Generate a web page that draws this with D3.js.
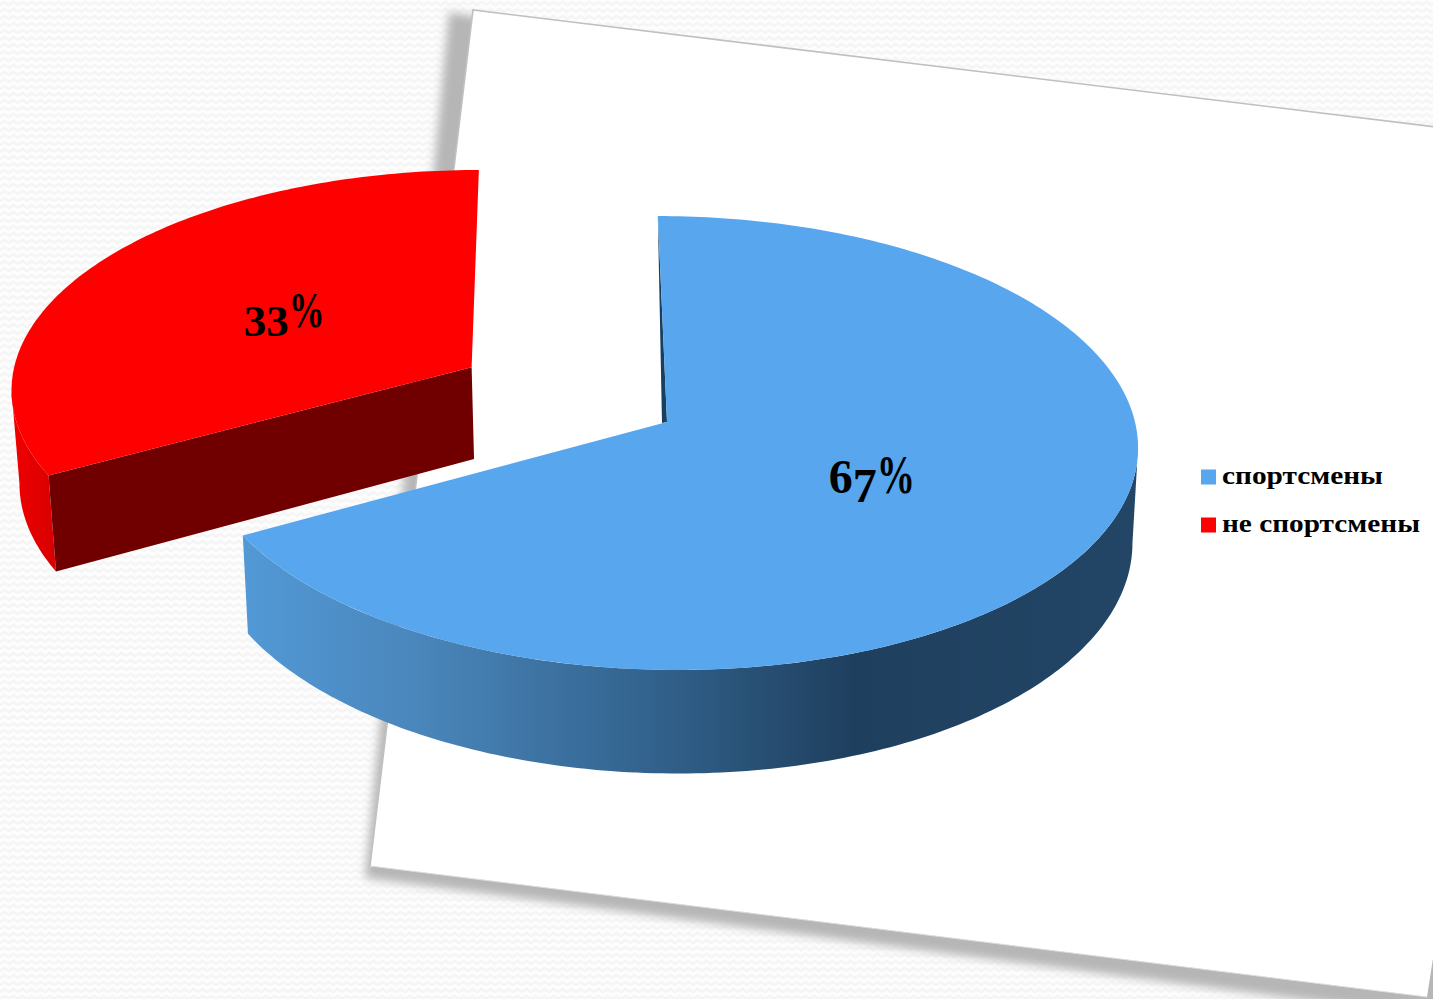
<!DOCTYPE html>
<html lang="ru">
<head>
<meta charset="utf-8">
<script src="https://cdn.jsdelivr.net/npm/d3@7/dist/d3.min.js"></script>
<style>
  html, body { margin: 0; padding: 0; background: #fcfcfc; overflow: hidden; }
  svg { display: block; }
  text { font-family: "Liberation Serif", serif; font-weight: bold; fill: #000; }
</style>
</head>
<body>
<svg id="chart" width="1433" height="999"></svg>
<script>
// Chart data
const categories = ["спортсмены", "не спортсмены"];
const values = [67, 33];
const explode = [0, 0.49];
const labelRadius = [0.49, 0.492];
const labelSize = [48, 45];
const legendWidths = [161, 198];
const topColors = ["#57a6ee", "#ff0000"];
const cutColors = ["#173f60", "#700000"];

const W = 1433, H = 999;
const svg = d3.select("#chart");
const defs = svg.append("defs");

// Faint woven paper texture behind the sheet
const weave = defs.append("pattern").attr("id", "weave")
  .attr("width", 18).attr("height", 14).attr("patternUnits", "userSpaceOnUse");
weave.append("rect").attr("width", 18).attr("height", 14).attr("fill", "#fdfdfd");
weave.append("path").attr("d", "M0 5 L4.5 2 L9 5 L13.5 2 L18 5 M0 12 L4.5 9 L9 12 L13.5 9 L18 12")
  .attr("fill", "none").attr("stroke", "#f5f5f5").attr("stroke-width", 2.4);
defs.append("filter").attr("id", "soft").attr("x", "-10%").attr("y", "-10%")
  .attr("width", "120%").attr("height", "120%")
  .append("feGaussianBlur").attr("stdDeviation", 5);

// Side wall shading of the large slice
const sideStops = [[247, "#5299d6"], [420, "#4a86bb"], [640, "#33648f"], [850, "#1f3f5e"], [1130, "#234666"]];
const sideX = d3.scaleLinear().domain([247, 1130]).range([0, 1]);
const sideGrad = defs.append("linearGradient").attr("id", "blueSide")
  .attr("x1", 0).attr("x2", 1).attr("y1", 0).attr("y2", 0);
sideStops.forEach(([x, c]) => sideGrad.append("stop").attr("offset", sideX(x)).attr("stop-color", c));
const redGrad = defs.append("linearGradient").attr("id", "redSide").attr("x1", 0).attr("x2", 1).attr("y1", 0).attr("y2", 0);
redGrad.append("stop").attr("offset", 0).attr("stop-color", "#f00000");
redGrad.append("stop").attr("offset", 1).attr("stop-color", "#d80000");

// Backdrop and tilted sheet
svg.append("rect").attr("width", W).attr("height", H).attr("fill", "url(#weave)");
const line = d3.line();
const shadowCorners = [[449, 12], [365, 878], [1429, 1016], [1460, 990], [1500, 200]];
const sheetCorners = [[473, 10], [370, 866], [1427, 997], [1560, 142]];
svg.append("path").attr("d", line(shadowCorners) + "Z").attr("fill", "#b6b6b6").attr("filter", "url(#soft)");
svg.append("path").attr("d", line(sheetCorners) + "Z").attr("fill", "#ffffff");
svg.append("path").attr("d", line([sheetCorners[3], sheetCorners[0], sheetCorners[1]]))
  .attr("fill", "none").attr("stroke", "#c0c0c0").attr("stroke-width", 1.6);
svg.append("path").attr("d", line([sheetCorners[1], sheetCorners[2]]))
  .attr("fill", "none").attr("stroke", "#dcdcdc").attr("stroke-width", 1);

// Perspective view of the pie plane: u runs right, v runs away from the viewer
const persp = 0.0925, depth = 94, shrink = 0.988, vanishX = 672;
const xUnit = d3.scaleLinear().domain([0, 1]).range([667, 1135]);
const yUnit = d3.scaleLinear().domain([0, 1]).range([422, 197]);
const lean = -10;
function project(u, v, low) {
  const w = 1 + persp * v;
  let X = xUnit(u / w) + lean * v / w;
  let Y = yUnit(v / w);
  if (low) {
    X = vanishX + (X - vanishX) * shrink;
    Y += depth / w;
  }
  return [X, Y];
}

const pie = d3.pie().sort(null).startAngle(0).endAngle(2 * Math.PI);
const arcs = pie(values);

function offsetOf(i) {
  const mid = (arcs[i].startAngle + arcs[i].endAngle) / 2;
  return [explode[i] * Math.sin(mid), explode[i] * Math.cos(mid)];
}
function rimPoint(i, a, low) {
  const [ou, ov] = offsetOf(i);
  return project(ou + Math.sin(a), ov + Math.cos(a), low);
}
function rim(i, a0, a1, low) {
  const steps = Math.max(2, Math.round(Math.abs(a1 - a0) * 60));
  return d3.range(steps + 1).map(k => rimPoint(i, a0 + (a1 - a0) * k / steps, low));
}
function apex(i, low) {
  const [ou, ov] = offsetOf(i);
  return project(ou, ov, low);
}
// Angle at which a slice's rim reaches its outermost screen position
function silhouetteAngle(i, sign) {
  const a = arcs[i];
  const samples = d3.range(a.startAngle, a.endAngle, 0.005);
  return samples[d3.greatestIndex(samples, s => sign * rimPoint(i, s)[0])];
}

const blue = 0, red = 1;

// Detached slice: outer wall, cut face, top
const redA = arcs[red];
const redEdge = silhouetteAngle(red, -1);
svg.append("path")
  .attr("d", line(rim(red, redA.startAngle, redEdge).concat(rim(red, redEdge, redA.startAngle, true))) + "Z")
  .attr("fill", "url(#redSide)");
svg.append("path")
  .attr("d", line([apex(red), rimPoint(red, redA.startAngle),
                   rimPoint(red, redA.startAngle, true), apex(red, true)]) + "Z")
  .attr("fill", cutColors[red]);
svg.append("path")
  .attr("d", line([apex(red), ...rim(red, redA.startAngle, redA.endAngle)]) + "Z")
  .attr("fill", topColors[red]);

// Large slice: outer wall, thin visible cut face, top
const blueA = arcs[blue];
const blueEdge = silhouetteAngle(blue, 1);
svg.append("path")
  .attr("d", line(rim(blue, blueEdge, blueA.endAngle).concat(rim(blue, blueA.endAngle, blueEdge, true))) + "Z")
  .attr("fill", "url(#blueSide)");
const peak = apex(blue);
svg.append("path")
  .attr("d", line([rimPoint(blue, 0), peak, [peak[0] - 5, peak[1] + 1]]) + "Z")
  .attr("fill", cutColors[blue]);
svg.append("path")
  .attr("d", line([peak, ...rim(blue, blueA.startAngle, blueA.endAngle)]) + "Z")
  .attr("fill", topColors[blue]);

// Percentage labels: old-style figures sit at different heights, with a tall condensed sign
const dropping = new Set(["3", "4", "5", "7", "9"]);
function pctLabel(i) {
  const size = labelSize[i];
  const mid = (arcs[i].startAngle + arcs[i].endAngle) / 2;
  const [ou, ov] = offsetOf(i);
  const r = labelRadius[i];
  const p = project(ou + r * Math.sin(mid), ov + r * Math.cos(mid));
  const digits = String(values[i]).split("");
  const signWidth = size * 0.79, digitWidth = size * 0.5;
  const total = digits.length * digitWidth + signWidth;
  const g = svg.append("g").attr("transform", `translate(${p[0] - total / 2},${p[1]})`);
  const t = g.append("text").attr("font-size", size);
  digits.forEach((d, k) => {
    t.append("tspan").attr("x", k * digitWidth)
      .attr("y", size * (dropping.has(d) ? 0.47 : 0.28)).text(d);
  });
  g.append("text").attr("font-size", size * 1.14)
    .attr("transform", `translate(${digits.length * digitWidth},${size * 0.28}) scale(0.7,1)`)
    .text("%");
}
pctLabel(blue);
pctLabel(red);

// Legend
const legendY = d3.scalePoint().domain(categories).range([477, 525]);
const legend = svg.append("g").selectAll("g").data(categories).join("g")
  .attr("transform", d => `translate(1201,${legendY(d)})`);
legend.append("rect").attr("y", -7.5).attr("width", 15).attr("height", 15)
  .attr("fill", (d, i) => topColors[i]);
legend.append("text").attr("x", 21).attr("y", 7).attr("font-size", 26)
  .attr("textLength", (d, i) => legendWidths[i]).attr("lengthAdjust", "spacingAndGlyphs")
  .text(d => d);
</script>
</body>
</html>
